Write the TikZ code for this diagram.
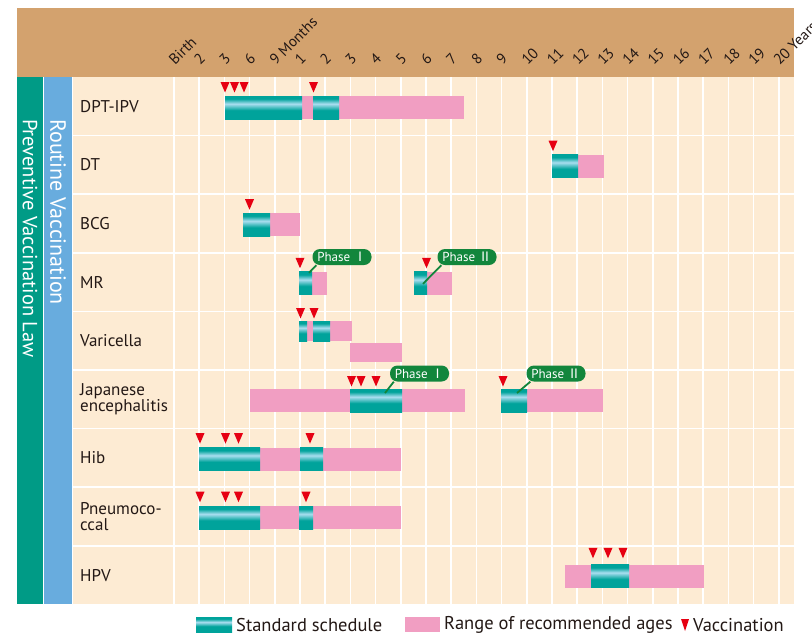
\documentclass[tikz,border=0pt]{standalone}
\usepackage{fontspec}
\setmainfont{PT Sans}
\newfontfamily\cjk{Noto Sans CJK JP}
\usetikzlibrary{positioning}
\definecolor{headtan}{RGB}{211,162,110}
\definecolor{cream}{RGB}{253,235,211}
\definecolor{lawgreen}{RGB}{0,155,134}
\definecolor{routineblue}{RGB}{104,172,222}
\definecolor{stdteal}{RGB}{0,163,155}
\definecolor{stdlight}{RGB}{170,222,240}
\definecolor{rangepink}{RGB}{241,158,194}
\definecolor{vaccred}{RGB}{230,0,18}
\definecolor{phasegreen}{RGB}{18,134,60}
\definecolor{inkc}{RGB}{35,24,21}
\pgfdeclareverticalshading{stdshade}{100bp}{color(0bp)=(stdteal); color(44bp)=(stdteal); color(58bp)=(stdlight); color(69bp)=(stdteal); color(100bp)=(stdteal)}
\tikzset{
  rowlabel/.style={anchor=west, font=\fontsize{17}{16}\selectfont, text=inkc, align=left, inner sep=0pt},
  agelabel/.style={anchor=base west, rotate=45, font=\fontsize{15}{15}\selectfont, text=inkc, inner sep=0pt},
  sidelabel/.style={rotate=-90, anchor=west, text=white, inner sep=0pt},
  legendlabel/.style={anchor=west, font=\fontsize{18.5}{18.5}\selectfont, text=inkc, inner sep=0pt},
  phase/.style={fill=phasegreen, text=white, rounded corners=7.5pt, minimum width=59pt, minimum height=16pt, inner sep=0pt, font=\fontsize{13}{13}\selectfont},
  phaseline/.style={draw=phasegreen, line width=1.8pt},
  gridline/.style={white, line width=1.6pt}
}
% bars inside a row scope (row top = 0)
\newcommand\stdbar[2]{\shade[shading=stdshade] (#1,19) rectangle (#2,42);}
\newcommand\rangebar[2]{\fill[rangepink] (#1,19) rectangle (#2,42);}
\newcommand\vacc[2]{\fill[vaccred] (#1-4.5,#2) -- (#1+4.5,#2) -- (#1,#2+10.5) -- cycle;}

\begin{document}
\begin{tikzpicture}[x=1pt, y=-1pt]
    \useasboundingbox (0,0) rectangle (812,635);
    % frame
    \fill[headtan] (17,8) rectangle (794,77);
    \fill[cream] (73,77) rectangle (794,604);
    \fill[lawgreen] (17,77) rectangle (42.5,604);
    \fill[routineblue] (44,77) rectangle (72,604);
    \node[sidelabel, font=\fontsize{20.5}{20.5}\selectfont] (law) at (30,119) {Preventive Vaccination Law};
    \node[sidelabel, font=\fontsize{22}{22}\selectfont] (routine) at (58,119) {Routine Vaccination};
    % ages
    \foreach \lab [count=\k from 0] in {Birth,2,3,6,{9 Months},1,2,3,4,5,6,7,8,9,10,11,12,13,14,15,16,17,18,19,{20 Years}}{
        \node[agelabel] (age-\k) at ({175+25.2*\k},66) {\lab};
    }
    % grid
    \foreach \k in {0,...,24}{
        \draw[gridline] ({174+25.2*\k},77) -- ({174+25.2*\k},604);
    }
    \foreach \r in {1,...,8}{
        \draw[gridline] (73,{77+58.6*\r}) -- (794,{77+58.6*\r});
    }
    % 1. DPT-IPV
    \begin{scope}[shift={(0,77)}]
        \node[rowlabel] (dpt) at (80,29.3) {DPT-IPV};
        \rangebar{302}{464}
        \stdbar{225}{302}
        \stdbar{313}{339}
        \foreach \x in {225,234.5,244,313.5}{\vacc{\x}{5}}
    \end{scope}
    % 2. DT
    \begin{scope}[shift={(0,135.6)}]
        \node[rowlabel] (dt) at (80,29.3) {DT};
        \rangebar{578}{604}
        \stdbar{552}{578}
        \vacc{553}{5}
    \end{scope}
    % 3. BCG
    \begin{scope}[shift={(0,194.2)}]
        \node[rowlabel] (bcg) at (80,29.3) {BCG};
        \rangebar{270}{300}
        \stdbar{243}{270}
        \vacc{249.5}{5}
    \end{scope}
    % 4. MR
    \begin{scope}[shift={(0,252.8)}]
        \node[rowlabel] (mr) at (80,29.3) {MR};
        \rangebar{312}{327}
        \stdbar{299}{312}
        \rangebar{427}{452}
        \stdbar{414}{427}
        \vacc{300}{5}
        \vacc{426.5}{5}
        \coordinate (mr-p1) at (309,20);
        \coordinate (mr-p2) at (423,31);
        \node[phase] (mr-ph1) at (342,4.2) {Phase {\cjk Ⅰ}};
        \node[phase] (mr-ph2) at (467,4.2) {Phase {\cjk Ⅱ}};
        \draw[phaseline] ([xshift=4]mr-ph1.south west) -- (mr-p1);
        \draw[phaseline] ([xshift=4]mr-ph2.south west) -- (mr-p2);
    \end{scope}
    % 5. Varicella
    \begin{scope}[shift={(0,311.4)}]
        \node[rowlabel] (vari) at (80,29.3) {Varicella};
        \fill[rangepink] (299,9.6) rectangle (352,29.6);
        \shade[shading=stdshade] (299,9.6) rectangle (307,29.6);
        \shade[shading=stdshade] (313,9.6) rectangle (330,29.6);
        \fill[rangepink] (350,31.6) rectangle (402,50.6);
        \vacc{300.5}{-3.4}
        \vacc{314}{-3.4}
    \end{scope}
    % 6. Japanese encephalitis
    \begin{scope}[shift={(0,370)}]
        \node[rowlabel] (je) at (80,29.3) {Japanese\\encephalitis};
        \rangebar{250}{465}
        \stdbar{350}{402}
        \rangebar{527}{603}
        \stdbar{501}{527}
        \foreach \x in {351.5,361,376,503}{\vacc{\x}{6}}
        \coordinate (je-p1) at (385,23);
        \coordinate (je-p2) at (517,23);
        \node[phase] (je-ph1) at (419.5,3.5) {Phase {\cjk Ⅰ}};
        \node[phase] (je-ph2) at (556,3.5) {Phase {\cjk Ⅱ}};
        \draw[phaseline] ([xshift=4]je-ph1.south west) -- (je-p1);
        \draw[phaseline] ([xshift=4]je-ph2.south west) -- (je-p2);
    \end{scope}
    % 7. Hib
    \begin{scope}[shift={(0,428.6)}]
        \node[rowlabel] (hib) at (80,29.3) {Hib};
        \rangebar{260}{401}
        \stdbar{199}{260}
        \stdbar{300}{323}
        \foreach \x in {200,225.5,238.5,310}{\vacc{\x}{4.5}}
    \end{scope}
    % 8. Pneumococcal
    \begin{scope}[shift={(0,487.2)}]
        \node[rowlabel] (pneu) at (80,29.3) {Pneumoco-\\ccal};
        \rangebar{260}{401}
        \stdbar{199}{260}
        \stdbar{299}{313}
        \foreach \x in {200,225.5,238.5,306}{\vacc{\x}{4.5}}
    \end{scope}
    % 9. HPV
    \begin{scope}[shift={(0,545.8)}]
        \node[rowlabel] (hpv) at (80,29.3) {HPV};
        \rangebar{565}{704}
        \stdbar{591}{629}
        \foreach \x in {593,608,623}{\vacc{\x}{2}}
    \end{scope}
    % legend
    \shade[shading=stdshade] (196,617) rectangle (232,632);
    \node[legendlabel] (leg-std) at (236,625) {Standard schedule};
    \fill[rangepink] (405,617) rectangle (440,632);
    \node[legendlabel] (leg-range) at (444,625) {Range of recommended ages};
    \fill[vaccred] (681,619) -- (689,619) -- (685,631) -- cycle;
    \node[legendlabel] (leg-vacc) at (693,625) {Vaccination};
\end{tikzpicture}
\end{document}
